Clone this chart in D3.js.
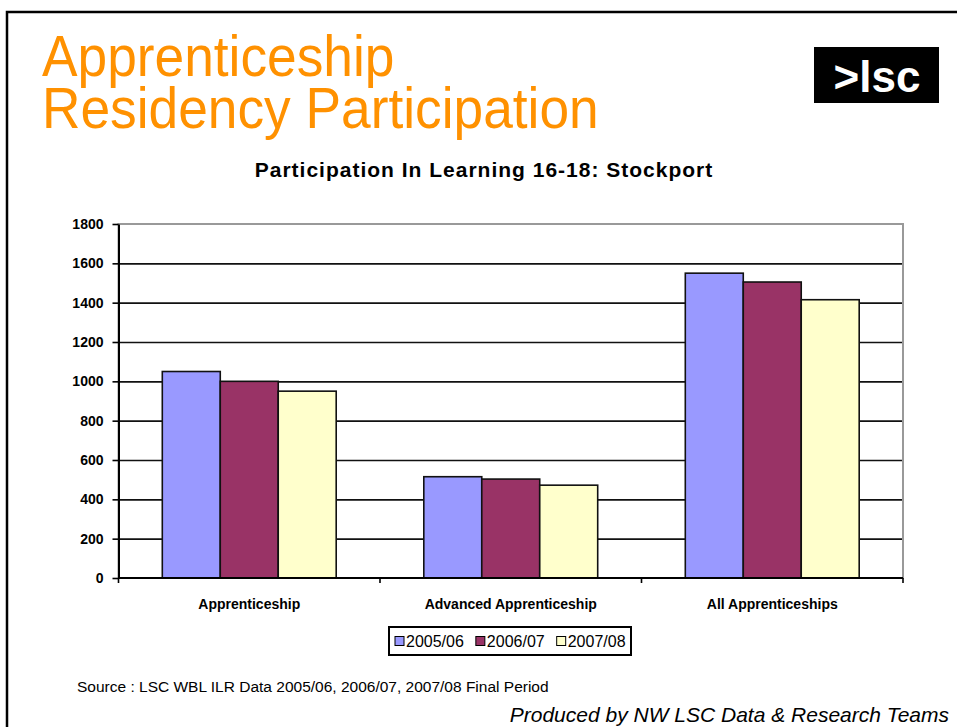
<!DOCTYPE html>
<html>
<head>
<meta charset="utf-8">
<script src="https://cdn.jsdelivr.net/npm/d3@7"></script>
<style>
  body { margin: 0; background: #fff; }
  svg text { font-family: "Liberation Sans", Arial, sans-serif; }
</style>
</head>
<body>
<div id="chart"></div>
<script>
// Data
var categories = ["Apprenticeship", "Advanced Apprenticeship", "All Apprenticeships"];
var years = ["2005/06", "2006/07", "2007/08"];
var values0506 = [1050, 515, 1550];
var values0607 = [1000, 503, 1505];
var values0708 = [950, 472, 1415];
var yTicks = [0, 200, 400, 600, 800, 1000, 1200, 1400, 1600, 1800];

var seriesValues = [values0506, values0607, values0708];
var colors = ["#9999ff", "#993366", "#ffffcc"];

// page and plot area
var W = 957, H = 727;
var plot = {left: 118.5, right: 903, top: 224, bottom: 578};

var svg = d3.select("#chart").append("svg")
    .attr("width", W)
    .attr("height", H);

// slide frame
svg.append("path")
    .attr("d", "M7," + H + "V12H" + W)
    .attr("fill", "none")
    .attr("stroke", "#000")
    .attr("stroke-width", 2.5);

// orange heading, two lines in one text
var head = svg.append("text")
    .attr("transform", "translate(42,0) scale(0.935,1)")
    .style("font-size", "57px")
    .attr("fill", "#ff9100");
head.append("tspan").attr("x", 0).attr("y", 76).text("Apprenticeship");
head.append("tspan").attr("x", 0).attr("y", 128).text("Residency Participation");

// logo
svg.append("rect")
    .attr("x", 814).attr("y", 47)
    .attr("width", 125).attr("height", 56)
    .attr("fill", "#000");
svg.append("text")
    .attr("x", 877).attr("y", 92)
    .attr("text-anchor", "middle")
    .attr("fill", "#fff")
    .style("font-size", "44px")
    .style("font-weight", "bold")
    .text(">lsc");

// chart title
svg.append("text")
    .attr("x", 484).attr("y", 177)
    .attr("text-anchor", "middle")
    .style("font-size", "21px")
    .style("font-weight", "bold")
    .style("letter-spacing", "1px")
    .text("Participation In Learning 16-18: Stockport");

// scales
var x0 = d3.scaleBand()
    .domain(categories)
    .range([plot.left, plot.right])
    .paddingInner(0.335)
    .paddingOuter(0.1675);

var x1 = d3.scaleBand()
    .domain(years)
    .range([0, x0.bandwidth()])
    .padding(0);

var y = d3.scaleLinear()
    .domain([0, 1800])
    .range([plot.bottom, plot.top]);

// grid lines
var grid = svg.append("g")
    .attr("transform", "translate(" + plot.left + ",0)")
    .call(d3.axisLeft(y).tickValues(yTicks.slice(1, -1))
        .tickSize(-(plot.right - plot.left)).tickFormat(""));
grid.select(".domain").remove();
grid.selectAll("line")
    .attr("stroke", "#111")
    .attr("stroke-width", 1.6);

// plot area border (grey top and right)
svg.append("rect")
    .attr("x", plot.left).attr("y", plot.top)
    .attr("width", plot.right - plot.left)
    .attr("height", plot.bottom - plot.top)
    .attr("fill", "none")
    .attr("stroke", "#999")
    .attr("stroke-width", 2);

// bars
var groups = svg.append("g").selectAll("g")
    .data(categories)
    .enter().append("g")
    .attr("transform", function(d) { return "translate(" + x0(d) + ",0)"; });

groups.selectAll("rect")
    .data(function(d, i) {
        return years.map(function(yr, j) {
            return {year: yr, value: seriesValues[j][i], color: colors[j]};
        });
    })
    .enter().append("rect")
    .attr("x", function(d) { return x1(d.year); })
    .attr("y", function(d) { return y(d.value); })
    .attr("width", x1.bandwidth())
    .attr("height", function(d) { return plot.bottom - y(d.value); })
    .attr("fill", function(d) { return d.color; })
    .attr("stroke", "#111")
    .attr("stroke-width", 1.6);

// y axis
var yAxis = svg.append("g")
    .attr("transform", "translate(" + plot.left + ",0)")
    .call(d3.axisLeft(y).tickValues(yTicks).tickFormat(d3.format("d"))
        .tickSize(6).tickPadding(9).tickSizeOuter(0));
yAxis.select(".domain").attr("stroke", "#000").attr("stroke-width", 2);
yAxis.selectAll("line").attr("stroke", "#000").attr("stroke-width", 1.6);
yAxis.selectAll("text")
    .attr("fill", "#000")
    .style("font-size", "14px")
    .style("font-weight", "bold")
    .style("font-family", "'Liberation Sans', Arial, sans-serif");

// x axis: ticks on category boundaries
var boundaries = categories.map(function(d) { return x0(d) - x0.step() * x0.paddingInner() / 2; });
boundaries.push(plot.right);
svg.append("line")
    .attr("x1", plot.left).attr("x2", plot.right)
    .attr("y1", plot.bottom).attr("y2", plot.bottom)
    .attr("stroke", "#000").attr("stroke-width", 2);
svg.append("g").selectAll("line")
    .data(boundaries)
    .enter().append("line")
    .attr("x1", function(d) { return d; }).attr("x2", function(d) { return d; })
    .attr("y1", plot.bottom).attr("y2", plot.bottom + 5)
    .attr("stroke", "#000").attr("stroke-width", 1.6);

svg.append("g").selectAll("text")
    .data(categories)
    .enter().append("text")
    .attr("x", function(d) { return x0(d) + x0.bandwidth() / 2; })
    .attr("y", 609)
    .attr("text-anchor", "middle")
    .style("font-size", "14px")
    .style("font-weight", "bold")
    .text(function(d) { return d; });

// legend
var legend = svg.append("g");
legend.append("rect")
    .attr("x", 389).attr("y", 627)
    .attr("width", 242).attr("height", 28)
    .attr("fill", "#fff")
    .attr("stroke", "#000")
    .attr("stroke-width", 2);
var lx = 395;
years.forEach(function(yr, j) {
    legend.append("rect")
        .attr("x", lx).attr("y", 636.5)
        .attr("width", 9).attr("height", 9)
        .attr("fill", colors[j])
        .attr("stroke", "#000")
        .attr("stroke-width", 1);
    var t = legend.append("text")
        .attr("x", lx + 11).attr("y", 647)
        .style("font-size", "16px")
        .text(yr);
    lx += 11 + t.node().getComputedTextLength() + 12;
});

// footnotes
svg.append("text")
    .attr("x", 77).attr("y", 692)
    .style("font-size", "15.5px")
    .text("Source : LSC WBL ILR Data 2005/06, 2006/07, 2007/08 Final Period");

svg.append("text")
    .attr("x", 949).attr("y", 722)
    .attr("text-anchor", "end")
    .style("font-size", "21px")
    .style("font-style", "italic")
    .text("Produced by NW LSC Data & Research Teams");
</script>
</body>
</html>
